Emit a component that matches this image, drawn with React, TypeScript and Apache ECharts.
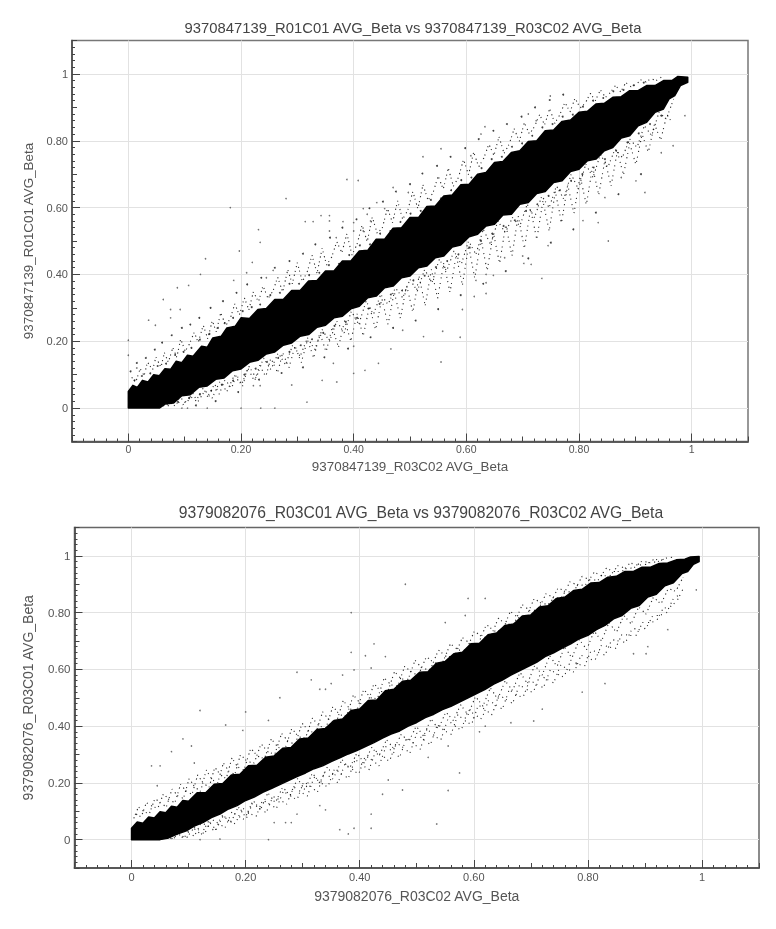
import React, { useEffect, useRef } from "react";
import * as echarts from "echarts";

const titleA = "9370847139_R01C01 AVG_Beta vs 9370847139_R03C02 AVG_Beta";
const titleB = "9379082076_R03C01 AVG_Beta vs 9379082076_R03C02 AVG_Beta";
const xNameA = "9370847139_R03C02 AVG_Beta";
const yNameA = "9370847139_R01C01 AVG_Beta";
const xNameB = "9379082076_R03C02 AVG_Beta";
const yNameB = "9379082076_R03C01 AVG_Beta";

const labelTicks = [0, 0.2, 0.4, 0.6, 0.8, 1];

// solid black core of each cloud: rough outline, as [x, y]
const coreA = [[0,0.05],[0.008,0.068],[0.016,0.062],[0.025,0.083],[0.035,0.078],[0.045,0.1],[0.055,0.097],[0.065,0.118],[0.075,0.116],[0.085,0.14],[0.095,0.136],[0.105,0.158],[0.115,0.155],[0.13,0.185],[0.14,0.182],[0.15,0.21],[0.165,0.215],[0.175,0.24],[0.19,0.245],[0.2,0.27],[0.215,0.268],[0.23,0.295],[0.245,0.298],[0.26,0.325],[0.275,0.325],[0.29,0.352],[0.305,0.352],[0.32,0.38],[0.335,0.382],[0.35,0.41],[0.365,0.41],[0.38,0.44],[0.395,0.44],[0.41,0.47],[0.425,0.472],[0.44,0.505],[0.455,0.505],[0.47,0.538],[0.485,0.54],[0.5,0.57],[0.515,0.57],[0.53,0.603],[0.545,0.605],[0.56,0.635],[0.575,0.638],[0.59,0.668],[0.605,0.67],[0.62,0.7],[0.635,0.705],[0.65,0.735],[0.665,0.738],[0.68,0.765],[0.695,0.77],[0.71,0.798],[0.725,0.8],[0.74,0.83],[0.755,0.832],[0.77,0.858],[0.785,0.862],[0.8,0.885],[0.815,0.888],[0.83,0.91],[0.845,0.912],[0.86,0.93],[0.875,0.932],[0.89,0.95],[0.905,0.95],[0.92,0.965],[0.935,0.965],[0.95,0.98],[0.965,0.98],[0.975,0.992],[0.993,0.99],[0.993,0.975],[0.98,0.965],[0.97,0.935],[0.96,0.925],[0.95,0.895],[0.935,0.885],[0.92,0.855],[0.905,0.845],[0.89,0.815],[0.875,0.808],[0.86,0.78],[0.845,0.77],[0.83,0.745],[0.815,0.74],[0.8,0.715],[0.785,0.708],[0.77,0.68],[0.755,0.675],[0.74,0.648],[0.725,0.642],[0.71,0.615],[0.695,0.61],[0.68,0.58],[0.665,0.578],[0.65,0.55],[0.635,0.545],[0.62,0.52],[0.605,0.513],[0.59,0.488],[0.575,0.482],[0.56,0.455],[0.545,0.45],[0.53,0.425],[0.515,0.42],[0.5,0.395],[0.485,0.39],[0.47,0.365],[0.455,0.36],[0.44,0.335],[0.425,0.33],[0.41,0.305],[0.395,0.297],[0.38,0.275],[0.365,0.27],[0.35,0.248],[0.335,0.242],[0.32,0.22],[0.305,0.215],[0.29,0.195],[0.275,0.188],[0.26,0.168],[0.245,0.162],[0.23,0.143],[0.215,0.137],[0.2,0.117],[0.185,0.112],[0.17,0.09],[0.155,0.086],[0.14,0.066],[0.125,0.062],[0.11,0.04],[0.095,0.037],[0.08,0.015],[0.065,0.012],[0.055,0],[0,0]];
const coreB = [[0,0.04],[0.01,0.062],[0.02,0.058],[0.03,0.08],[0.04,0.076],[0.05,0.098],[0.06,0.095],[0.07,0.118],[0.08,0.114],[0.09,0.138],[0.1,0.135],[0.115,0.165],[0.13,0.165],[0.145,0.195],[0.16,0.198],[0.175,0.228],[0.19,0.23],[0.205,0.26],[0.22,0.262],[0.235,0.29],[0.25,0.295],[0.265,0.322],[0.28,0.325],[0.295,0.355],[0.31,0.358],[0.325,0.388],[0.34,0.392],[0.355,0.42],[0.37,0.425],[0.385,0.455],[0.4,0.46],[0.415,0.49],[0.43,0.492],[0.445,0.525],[0.46,0.53],[0.475,0.558],[0.49,0.562],[0.505,0.59],[0.52,0.592],[0.535,0.622],[0.55,0.628],[0.565,0.655],[0.58,0.66],[0.595,0.69],[0.61,0.692],[0.625,0.722],[0.64,0.728],[0.655,0.755],[0.67,0.76],[0.685,0.788],[0.7,0.792],[0.715,0.82],[0.73,0.824],[0.745,0.85],[0.76,0.855],[0.775,0.878],[0.79,0.882],[0.805,0.904],[0.82,0.906],[0.835,0.925],[0.85,0.928],[0.865,0.945],[0.88,0.945],[0.895,0.96],[0.91,0.96],[0.925,0.973],[0.94,0.975],[0.955,0.986],[0.97,0.988],[0.98,0.996],[0.995,0.998],[0.995,0.98],[0.985,0.97],[0.975,0.945],[0.965,0.938],[0.95,0.905],[0.935,0.895],[0.92,0.865],[0.905,0.855],[0.89,0.825],[0.875,0.815],[0.86,0.79],[0.845,0.778],[0.83,0.755],[0.815,0.74],[0.8,0.72],[0.785,0.708],[0.77,0.69],[0.755,0.675],[0.74,0.658],[0.725,0.645],[0.71,0.625],[0.695,0.61],[0.68,0.595],[0.665,0.58],[0.65,0.562],[0.635,0.548],[0.62,0.53],[0.605,0.515],[0.59,0.5],[0.575,0.485],[0.56,0.47],[0.545,0.458],[0.53,0.442],[0.515,0.43],[0.5,0.413],[0.485,0.4],[0.47,0.383],[0.455,0.372],[0.44,0.358],[0.425,0.342],[0.41,0.328],[0.395,0.314],[0.38,0.302],[0.365,0.288],[0.35,0.275],[0.335,0.26],[0.32,0.25],[0.305,0.235],[0.29,0.222],[0.275,0.208],[0.26,0.194],[0.245,0.18],[0.23,0.167],[0.215,0.15],[0.2,0.138],[0.185,0.12],[0.17,0.108],[0.155,0.09],[0.14,0.078],[0.125,0.06],[0.11,0.048],[0.095,0.03],[0.08,0.02],[0.065,0.006],[0.05,0],[0,0]];

const outliersA = [[0.181,0.6],[0.28,0.627],[0.388,0.684],[0.408,0.681],[0.231,0.534],[0.314,0.558],[0.328,0.558],[0.342,0.576],[0.357,0.576],[0.357,0.56],[0.381,0.558],[0.4,0.555],[0.417,0.597],[0.441,0.615],[0.455,0.597],[0.424,0.58],[0.43,0.56],[0.4,0.53],[0.417,0.53],[0.369,0.51],[0.357,0.53],[0.137,0.447],[0.128,0.4],[0.107,0.367],[0.087,0.36],[0.062,0.325],[0.075,0.295],[0.092,0.295],[0.036,0.263],[0.048,0.248],[0.075,0.27],[0,0.203],[0,0.158],[0.015,0.12],[0.187,0.382],[0.197,0.47],[0.22,0.436],[0.234,0.496],[0.257,0.412],[0.245,0.39],[0.21,0.405],[0.4,0.104],[0.444,0.134],[0.42,0.113],[0.364,0.134],[0.344,0.083],[0.37,0.078],[0.29,0.069],[0.317,0.018],[0.234,0.067],[0.222,0.067],[0.26,0],[0.095,0],[0.105,0],[0.14,0],[0.2,0],[0.235,0],[0.4,0.185],[0.466,0.177],[0.555,0.138],[0.589,0.212],[0.524,0.214],[0.487,0.233],[0.558,0.23],[0.593,0.295],[0.614,0.334],[0.635,0.343],[0.734,0.388],[0.715,0.43],[0.702,0.433],[0.7,0.455],[0.668,0.45],[0.648,0.397],[0.635,0.4],[0.617,0.382],[0.635,0.375],[0.745,0.486],[0.852,0.5],[0.917,0.645],[0.967,0.785],[0.946,0.764],[0.988,0.875],[0.834,0.555],[0.807,0.561],[0.768,0.561],[0.901,0.68],[0.875,0.69],[0.846,0.63],[0.749,0.934],[0.633,0.842],[0.555,0.776],[0.523,0.752],[0.497,0.645],[0.47,0.66],[0.724,0.86],[0.71,0.88],[0.608,0.755],[0.626,0.82]];
const outliersB = [[0.385,0.66],[0.41,0.648],[0.445,0.645],[0.42,0.605],[0.39,0.598],[0.315,0.563],[0.29,0.59],[0.33,0.53],[0.35,0.55],[0.37,0.58],[0.26,0.5],[0.34,0.53],[0.165,0.404],[0.12,0.455],[0.105,0.33],[0.09,0.355],[0.07,0.31],[0.05,0.26],[0.035,0.26],[0.045,0.19],[0.11,0.27],[0.195,0.385],[0.24,0.42],[0.2,0.45],[0.38,0.02],[0.365,0.035],[0.39,0.04],[0.34,0.105],[0.33,0.12],[0.29,0.09],[0.28,0.06],[0.27,0.06],[0.25,0.06],[0.24,0],[0.12,0],[0.155,0.002],[0.42,0.04],[0.42,0.09],[0.44,0.16],[0.535,0.055],[0.555,0.173],[0.475,0.175],[0.45,0.21],[0.575,0.235],[0.52,0.29],[0.555,0.33],[0.61,0.38],[0.62,0.4],[0.665,0.412],[0.705,0.418],[0.72,0.46],[0.6,0.43],[0.83,0.55],[0.79,0.52],[0.88,0.655],[0.902,0.655],[0.905,0.68],[0.78,0.62],[0.94,0.74],[0.99,0.88],[0.48,0.9],[0.385,0.8],[0.59,0.85],[0.55,0.765],[0.62,0.85],[0.585,0.79],[0.425,0.69]];

// speckle just outside the core
const fringeUpA = [[0.006,0.092],[0.013,0.077],[0.021,0.118],[0.028,0.097],[0.034,0.138],[0.043,0.114],[0.049,0.152],[0.058,0.122],[0.064,0.166],[0.071,0.137],[0.079,0.181],[0.086,0.152],[0.093,0.207],[0.101,0.17],[0.108,0.19],[0.117,0.227],[0.124,0.196],[0.133,0.248],[0.141,0.207],[0.149,0.262],[0.156,0.228],[0.164,0.285],[0.173,0.247],[0.181,0.268],[0.189,0.312],[0.197,0.278],[0.206,0.33],[0.214,0.294],[0.222,0.348],[0.231,0.318],[0.239,0.366],[0.248,0.328],[0.257,0.351],[0.265,0.392],[0.274,0.347],[0.283,0.414],[0.291,0.372],[0.3,0.435],[0.309,0.378],[0.318,0.41],[0.326,0.458],[0.335,0.403],[0.344,0.478],[0.352,0.428],[0.361,0.452],[0.37,0.498],[0.379,0.465],[0.388,0.522],[0.397,0.458],[0.406,0.49],[0.415,0.548],[0.424,0.497],[0.433,0.572],[0.442,0.522],[0.451,0.54],[0.46,0.598],[0.469,0.555],[0.478,0.62],[0.487,0.565],[0.496,0.592],[0.505,0.648],[0.514,0.596],[0.523,0.668],[0.532,0.622],[0.541,0.645],[0.55,0.694],[0.559,0.655],[0.568,0.718],[0.577,0.664],[0.586,0.69],[0.595,0.744],[0.604,0.698],[0.613,0.766],[0.622,0.722],[0.631,0.748],[0.64,0.79],[0.649,0.756],[0.658,0.812],[0.667,0.762],[0.676,0.79],[0.685,0.836],[0.694,0.798],[0.703,0.854],[0.712,0.82],[0.721,0.842],[0.73,0.878],[0.739,0.848],[0.748,0.896],[0.757,0.852],[0.766,0.878],[0.775,0.915],[0.784,0.886],[0.793,0.928],[0.802,0.898],[0.811,0.912],[0.82,0.942],[0.829,0.92],[0.838,0.952],[0.847,0.93],[0.856,0.945],[0.865,0.966],[0.874,0.946],[0.883,0.974],[0.892,0.962],[0.901,0.968],[0.91,0.982],[0.919,0.976],[0.928,0.986],[0.937,0.98],[0.946,0.99]];
const fringeUpA2 = [[0.011,0.083],[0.024,0.096],[0.039,0.104],[0.052,0.126],[0.067,0.133],[0.083,0.159],[0.098,0.168],[0.112,0.18],[0.127,0.205],[0.144,0.222],[0.159,0.24],[0.171,0.254],[0.186,0.27],[0.203,0.29],[0.219,0.302],[0.234,0.31],[0.252,0.338],[0.269,0.345],[0.286,0.372],[0.303,0.372],[0.321,0.398],[0.339,0.405],[0.356,0.428],[0.374,0.432],[0.392,0.458],[0.411,0.487],[0.429,0.49],[0.447,0.522],[0.465,0.53],[0.483,0.557],[0.501,0.582],[0.519,0.59],[0.537,0.623],[0.555,0.628],[0.573,0.652],[0.591,0.682],[0.609,0.69],[0.627,0.718],[0.645,0.745],[0.663,0.752],[0.681,0.782],[0.699,0.792],[0.717,0.815],[0.735,0.84],[0.753,0.85],[0.771,0.872],[0.789,0.878],[0.807,0.902],[0.825,0.92],[0.843,0.928],[0.861,0.948],[0.879,0.952],[0.897,0.966],[0.915,0.974],[0.004,0.11],[0.015,0.135],[0.031,0.15],[0.047,0.175],[0.06,0.196],[0.077,0.218],[0.095,0.24],[0.11,0.25],[0.126,0.27],[0.146,0.3],[0.168,0.32],[0.192,0.345],[0.211,0.37],[0.236,0.39],[0.26,0.42],[0.286,0.44],[0.31,0.462],[0.332,0.49],[0.358,0.51],[0.38,0.54],[0.405,0.565],[0.428,0.598],[0.452,0.618],[0.475,0.648],[0.5,0.67],[0.522,0.702],[0.548,0.725],[0.572,0.752],[0.598,0.778],[0.622,0.805],[0.648,0.83],[0.672,0.85],[0.698,0.872],[0.722,0.9],[0.748,0.922],[0.772,0.938]];
const fringeDownA = [[0.062,0.006],[0.073,0.022],[0.084,0.004],[0.091,0.034],[0.103,0.013],[0.114,0.046],[0.121,0.024],[0.133,0.06],[0.142,0.03],[0.153,0.074],[0.161,0.041],[0.172,0.086],[0.183,0.058],[0.192,0.1],[0.203,0.066],[0.212,0.12],[0.224,0.08],[0.233,0.128],[0.244,0.094],[0.253,0.15],[0.265,0.106],[0.274,0.166],[0.285,0.12],[0.296,0.186],[0.307,0.136],[0.318,0.204],[0.329,0.15],[0.34,0.225],[0.351,0.168],[0.362,0.242],[0.373,0.182],[0.384,0.262],[0.395,0.2],[0.406,0.282],[0.417,0.216],[0.428,0.305],[0.439,0.234],[0.45,0.328],[0.461,0.25],[0.472,0.348],[0.483,0.268],[0.494,0.368],[0.505,0.286],[0.516,0.395],[0.527,0.306],[0.538,0.415],[0.549,0.328],[0.56,0.435],[0.571,0.346],[0.582,0.458],[0.593,0.368],[0.604,0.486],[0.615,0.388],[0.626,0.506],[0.637,0.41],[0.648,0.525],[0.659,0.432],[0.67,0.55],[0.681,0.455],[0.692,0.575],[0.703,0.478],[0.714,0.596],[0.725,0.505],[0.736,0.62],[0.747,0.53],[0.758,0.648],[0.769,0.555],[0.78,0.668],[0.791,0.582],[0.802,0.695],[0.813,0.608],[0.824,0.722],[0.835,0.638],[0.846,0.742],[0.857,0.665],[0.868,0.768],[0.879,0.698],[0.89,0.792],[0.901,0.728],[0.912,0.82],[0.923,0.765],[0.934,0.85],[0.945,0.802],[0.956,0.878],[0.967,0.85]];
const fringeDownA2 = [[0.069,0.013],[0.088,0.019],[0.108,0.03],[0.127,0.041],[0.147,0.052],[0.166,0.07],[0.186,0.082],[0.206,0.1],[0.226,0.118],[0.246,0.138],[0.266,0.15],[0.286,0.168],[0.306,0.188],[0.326,0.206],[0.346,0.225],[0.366,0.246],[0.386,0.258],[0.406,0.27],[0.426,0.298],[0.446,0.312],[0.466,0.34],[0.486,0.352],[0.506,0.382],[0.526,0.396],[0.546,0.422],[0.566,0.44],[0.586,0.46],[0.606,0.48],[0.626,0.5],[0.646,0.522],[0.666,0.545],[0.686,0.562],[0.706,0.59],[0.726,0.61],[0.746,0.635],[0.766,0.652],[0.786,0.68],[0.806,0.7],[0.826,0.72],[0.846,0.745],[0.866,0.77],[0.886,0.795],[0.906,0.822],[0.926,0.85],[0.946,0.875],[0.12,0.008],[0.155,0.021],[0.195,0.048],[0.232,0.085],[0.272,0.105],[0.31,0.122],[0.348,0.152],[0.39,0.178],[0.43,0.212],[0.47,0.24],[0.51,0.262],[0.55,0.296],[0.59,0.338],[0.63,0.372],[0.67,0.41],[0.71,0.448],[0.75,0.495],[0.79,0.535],[0.83,0.585],[0.87,0.64],[0.91,0.7]];
const nearDownA = [[0.07,0.006],[0.084,0.022],[0.097,0.01],[0.11,0.035],[0.123,0.018],[0.136,0.052],[0.149,0.03],[0.162,0.078],[0.175,0.05],[0.188,0.098],[0.201,0.07],[0.214,0.125],[0.227,0.09],[0.24,0.15],[0.253,0.115],[0.266,0.165],[0.279,0.13],[0.292,0.19],[0.305,0.155],[0.318,0.21],[0.331,0.175],[0.344,0.235],[0.357,0.2],[0.37,0.26],[0.383,0.225],[0.396,0.29],[0.409,0.25],[0.422,0.32],[0.435,0.28],[0.448,0.34],[0.461,0.31],[0.474,0.36],[0.487,0.33],[0.5,0.385],[0.513,0.35],[0.526,0.415],[0.539,0.375],[0.552,0.445],[0.565,0.41],[0.578,0.47],[0.591,0.43],[0.604,0.5],[0.617,0.46],[0.63,0.535],[0.643,0.49],[0.656,0.56],[0.669,0.525],[0.682,0.57],[0.695,0.545],[0.708,0.61],[0.721,0.57],[0.734,0.635],[0.747,0.6],[0.76,0.665],[0.773,0.625],[0.786,0.7],[0.799,0.655],[0.812,0.73],[0.825,0.69],[0.838,0.76],[0.851,0.72],[0.864,0.775],[0.877,0.75],[0.89,0.805],[0.903,0.78],[0.916,0.845],[0.929,0.815],[0.942,0.885],[0.955,0.865],[0.968,0.925]];
const fringeUpB = [[0.004,0.075],[0.012,0.115],[0.021,0.1],[0.031,0.09],[0.041,0.145],[0.051,0.13],[0.061,0.115],[0.071,0.178],[0.081,0.155],[0.091,0.145],[0.101,0.215],[0.111,0.185],[0.121,0.17],[0.131,0.245],[0.141,0.212],[0.151,0.2],[0.161,0.27],[0.171,0.24],[0.181,0.23],[0.191,0.3],[0.203,0.275],[0.215,0.27],[0.227,0.338],[0.239,0.31],[0.251,0.3],[0.263,0.374],[0.275,0.345],[0.287,0.336],[0.299,0.41],[0.311,0.382],[0.323,0.376],[0.335,0.45],[0.347,0.42],[0.359,0.412],[0.371,0.49],[0.383,0.46],[0.395,0.455],[0.407,0.53],[0.419,0.5],[0.431,0.496],[0.443,0.57],[0.455,0.545],[0.467,0.542],[0.479,0.612],[0.491,0.588],[0.503,0.58],[0.517,0.645],[0.531,0.622],[0.545,0.622],[0.559,0.69],[0.573,0.668],[0.587,0.668],[0.601,0.735],[0.615,0.714],[0.629,0.712],[0.643,0.78],[0.657,0.758],[0.671,0.762],[0.685,0.828],[0.699,0.806],[0.713,0.81],[0.727,0.868],[0.741,0.85],[0.755,0.855],[0.769,0.91],[0.783,0.894],[0.797,0.9],[0.811,0.942],[0.825,0.93],[0.839,0.93],[0.853,0.966],[0.867,0.955],[0.881,0.958],[0.895,0.982],[0.909,0.976],[0.923,0.98],[0.937,0.992],[0.951,0.996]];
const fringeUpB2 = [[0.008,0.09],[0.017,0.08],[0.026,0.13],[0.036,0.118],[0.046,0.11],[0.056,0.162],[0.066,0.14],[0.076,0.13],[0.086,0.195],[0.096,0.17],[0.106,0.16],[0.116,0.228],[0.126,0.198],[0.136,0.185],[0.146,0.255],[0.156,0.228],[0.166,0.215],[0.176,0.288],[0.186,0.256],[0.197,0.245],[0.209,0.322],[0.221,0.294],[0.233,0.285],[0.245,0.355],[0.257,0.325],[0.269,0.32],[0.281,0.392],[0.293,0.362],[0.305,0.358],[0.317,0.428],[0.329,0.4],[0.341,0.394],[0.353,0.47],[0.365,0.44],[0.377,0.435],[0.389,0.51],[0.401,0.48],[0.413,0.475],[0.425,0.55],[0.437,0.522],[0.449,0.52],[0.461,0.592],[0.473,0.566],[0.485,0.565],[0.497,0.632],[0.51,0.602],[0.524,0.6],[0.538,0.668],[0.552,0.645],[0.566,0.645],[0.58,0.712],[0.594,0.69],[0.608,0.69],[0.622,0.758],[0.636,0.735],[0.65,0.736],[0.664,0.804],[0.678,0.782],[0.692,0.785],[0.706,0.85],[0.72,0.83],[0.734,0.832],[0.748,0.888],[0.762,0.872],[0.776,0.876],[0.79,0.928],[0.804,0.915],[0.818,0.915],[0.832,0.956],[0.846,0.945],[0.86,0.945],[0.874,0.975],[0.888,0.967],[0.902,0.97],[0.916,0.988],[0.93,0.985]];
const fringeDownB = [[0.05,0.005],[0.062,0.008],[0.074,0.003],[0.086,0.04],[0.098,0.028],[0.11,0.012],[0.122,0.06],[0.134,0.048],[0.146,0.03],[0.158,0.085],[0.17,0.07],[0.182,0.055],[0.194,0.112],[0.206,0.095],[0.218,0.08],[0.23,0.14],[0.242,0.125],[0.254,0.11],[0.266,0.17],[0.278,0.155],[0.29,0.14],[0.302,0.205],[0.314,0.186],[0.326,0.168],[0.338,0.236],[0.35,0.218],[0.362,0.2],[0.374,0.266],[0.386,0.25],[0.398,0.23],[0.41,0.296],[0.422,0.28],[0.434,0.26],[0.446,0.328],[0.458,0.31],[0.47,0.29],[0.482,0.358],[0.494,0.34],[0.506,0.318],[0.518,0.39],[0.53,0.368],[0.542,0.35],[0.554,0.422],[0.566,0.402],[0.578,0.385],[0.59,0.458],[0.602,0.44],[0.614,0.425],[0.626,0.492],[0.638,0.475],[0.65,0.46],[0.662,0.528],[0.674,0.512],[0.686,0.5],[0.698,0.562],[0.71,0.548],[0.722,0.535],[0.734,0.598],[0.746,0.584],[0.758,0.572],[0.77,0.632],[0.782,0.62],[0.794,0.61],[0.806,0.668],[0.818,0.66],[0.83,0.65],[0.842,0.705],[0.854,0.7],[0.866,0.695],[0.878,0.745],[0.89,0.74],[0.902,0.745],[0.914,0.79],[0.926,0.79],[0.938,0.8],[0.95,0.85],[0.962,0.865]];
const fringeDownB2 = [[0.056,0.02],[0.068,0.03],[0.08,0.018],[0.092,0.005],[0.104,0.048],[0.116,0.036],[0.128,0.02],[0.14,0.072],[0.152,0.058],[0.164,0.042],[0.176,0.098],[0.188,0.082],[0.2,0.068],[0.212,0.128],[0.224,0.11],[0.236,0.095],[0.248,0.152],[0.26,0.14],[0.272,0.125],[0.284,0.186],[0.296,0.17],[0.308,0.152],[0.32,0.22],[0.332,0.2],[0.344,0.185],[0.356,0.25],[0.368,0.232],[0.38,0.216],[0.392,0.282],[0.404,0.265],[0.416,0.245],[0.428,0.312],[0.44,0.296],[0.452,0.275],[0.464,0.342],[0.476,0.325],[0.488,0.305],[0.5,0.375],[0.512,0.352],[0.524,0.335],[0.536,0.405],[0.548,0.385],[0.56,0.37],[0.572,0.44],[0.584,0.42],[0.596,0.405],[0.608,0.475],[0.62,0.458],[0.632,0.44],[0.644,0.51],[0.656,0.495],[0.668,0.48],[0.68,0.545],[0.692,0.53],[0.704,0.518],[0.716,0.58],[0.728,0.565],[0.74,0.552],[0.752,0.615],[0.764,0.602],[0.776,0.59],[0.788,0.65],[0.8,0.64],[0.812,0.63],[0.824,0.686],[0.836,0.68],[0.848,0.672],[0.86,0.725],[0.872,0.72],[0.884,0.718],[0.896,0.765],[0.908,0.765],[0.92,0.77],[0.932,0.815],[0.944,0.82],[0.956,0.84],[0.968,0.888]];
const nearDownB = [[0.07,0.003],[0.083,0.018],[0.096,0.005],[0.109,0.04],[0.122,0.018],[0.135,0.065],[0.148,0.035],[0.161,0.085],[0.174,0.06],[0.187,0.115],[0.2,0.08],[0.213,0.138],[0.226,0.105],[0.239,0.165],[0.252,0.13],[0.265,0.185],[0.278,0.155],[0.291,0.215],[0.304,0.175],[0.317,0.235],[0.33,0.2],[0.343,0.255],[0.356,0.225],[0.369,0.282],[0.382,0.25],[0.395,0.305],[0.408,0.27],[0.421,0.325],[0.434,0.295],[0.447,0.352],[0.46,0.32],[0.473,0.372],[0.486,0.345],[0.499,0.4],[0.512,0.365],[0.525,0.425],[0.538,0.39],[0.551,0.45],[0.564,0.42],[0.577,0.475],[0.59,0.44],[0.603,0.505],[0.616,0.47],[0.629,0.535],[0.642,0.495],[0.655,0.56],[0.668,0.525],[0.681,0.59],[0.694,0.55],[0.707,0.615],[0.72,0.58],[0.733,0.648],[0.746,0.61],[0.759,0.68],[0.772,0.64],[0.785,0.705],[0.798,0.67],[0.811,0.735],[0.824,0.7],[0.837,0.765],[0.85,0.73],[0.863,0.79],[0.876,0.76],[0.889,0.82],[0.902,0.795],[0.915,0.855],[0.928,0.83],[0.941,0.885],[0.954,0.875],[0.967,0.925]];

const fmt = (v: number) => (v === 0 ? "0" : v === 1 ? "1" : v.toFixed(2));

function axes(grid: number, dim: "x" | "y", name: string, nameSize: number, gap: number, labelSize: number, labelMargin: number) {
  const position = dim === "x" ? "bottom" : "left";
  const base = {
    type: "value", gridIndex: grid, min: -0.1, max: 1.1, position,
    axisLine: { show: true, onZero: false, lineStyle: { color: "#555", width: 1.5 } },
  };
  return [
    {
      ...base,
      interval: 0.1,
      axisLabel: { show: false },
      splitLine: { show: false },
      axisTick: { show: true, inside: true, length: 5, lineStyle: { color: "#444" } },
      minorTick: { show: true, splitNumber: 5, length: 3, lineStyle: { color: "#444" } },
    },
    {
      ...base,
      name, nameLocation: "middle", nameGap: gap,
      nameTextStyle: { fontFamily: "Liberation Sans", fontSize: nameSize, color: "#555" },
      axisLabel: { show: true, customValues: labelTicks, formatter: fmt, fontFamily: "Liberation Sans", fontSize: labelSize, color: "#555", margin: labelMargin },
      axisTick: { show: true, inside: true, length: 8, customValues: labelTicks, lineStyle: { color: "#444" } },
      splitLine: { show: true, lineStyle: { color: "#e2e2e2", width: 1 } },
    },
  ];
}

function speckle(grid: number, data: number[][], dash: number[], width: number, opacity: number) {
  return {
    type: "line", xAxisIndex: grid * 2 + 1, yAxisIndex: grid * 2 + 1, data, silent: true, z: 4,
    showSymbol: false, symbol: "none",
    lineStyle: { color: "#000", width, type: dash, opacity },
  };
}

function panelSeries(grid: number, core: number[][], zig: number[][][], dots: number[][], oddDots: number[][]) {
  const xAxisIndex = grid * 2 + 1;
  const yAxisIndex = grid * 2 + 1;
  return [
    ...zig.map((data, i) => speckle(grid, data, i % 2 ? [1.1, 3.3, 1, 4.7] : [1.2, 2.7, 1, 3.9], 1.1, 0.85)),
    {
      type: "scatter", xAxisIndex, yAxisIndex, data: dots, symbolSize: 1.9, silent: true, z: 4,
      itemStyle: { color: "#111", opacity: 0.8 },
    },
    {
      type: "scatter", xAxisIndex, yAxisIndex, data: oddDots, symbolSize: 1.6, silent: true, z: 4,
      itemStyle: { color: "#444", opacity: 0.75 },
    },
    {
      type: "custom", xAxisIndex, yAxisIndex, silent: true, z: 5, data: [0],
      renderItem: (_: any, api: any) => ({
        type: "polygon",
        shape: { points: core.map((p: number[]) => api.coord(p)) },
        style: { fill: "#000", stroke: "#000", lineWidth: 1.5, lineJoin: "round" },
      }),
    },
  ];
}

export default function App() {
  const ref = useRef<HTMLDivElement>(null);
  useEffect(() => {
    const chart = echarts.init(ref.current!, null, { renderer: "svg" });
    chart.setOption({
      animation: false,
      backgroundColor: "#fff",
      title: [
        { text: titleA, left: 408, top: 15, textAlign: "center", textStyle: { fontFamily: "Liberation Sans", fontSize: 14.8, fontWeight: "normal", color: "#444", lineHeight: 16 } },
        { text: titleB, left: 416, top: 499, textAlign: "center", textStyle: { fontFamily: "Liberation Sans", fontSize: 15.7, fontWeight: "normal", color: "#444", lineHeight: 16 } },
      ],
      grid: [
        { left: 72, top: 40.5, width: 676, height: 401, show: true, borderColor: "#777", borderWidth: 1.5, backgroundColor: "#fff" },
        { left: 74.5, top: 527.5, width: 684.5, height: 340.5, show: true, borderColor: "#666", borderWidth: 1.5, backgroundColor: "#fff" },
      ],
      xAxis: [...axes(0, "x", xNameA, 13.4, 18, 10.5, 2), ...axes(1, "x", xNameB, 14, 21, 11, 3)],
      yAxis: [...axes(0, "y", yNameA, 13.4, 37, 11, 4), ...axes(1, "y", yNameB, 14, 40, 11.5, 4)],
      series: [
        ...panelSeries(0, coreA, [fringeUpA, fringeDownA, nearDownA], [...fringeUpA2, ...fringeDownA2], [...outliersA]),
        ...panelSeries(1, coreB, [fringeUpB, fringeDownB, fringeUpB2, fringeDownB2, nearDownB], [], [...outliersB]),
      ],
    });
    return () => chart.dispose();
  }, []);
  return <div ref={ref} style={{ position: "absolute", left: 0, top: 0, width: 776, height: 929, filter: "blur(0.4px)" }} />;
}
